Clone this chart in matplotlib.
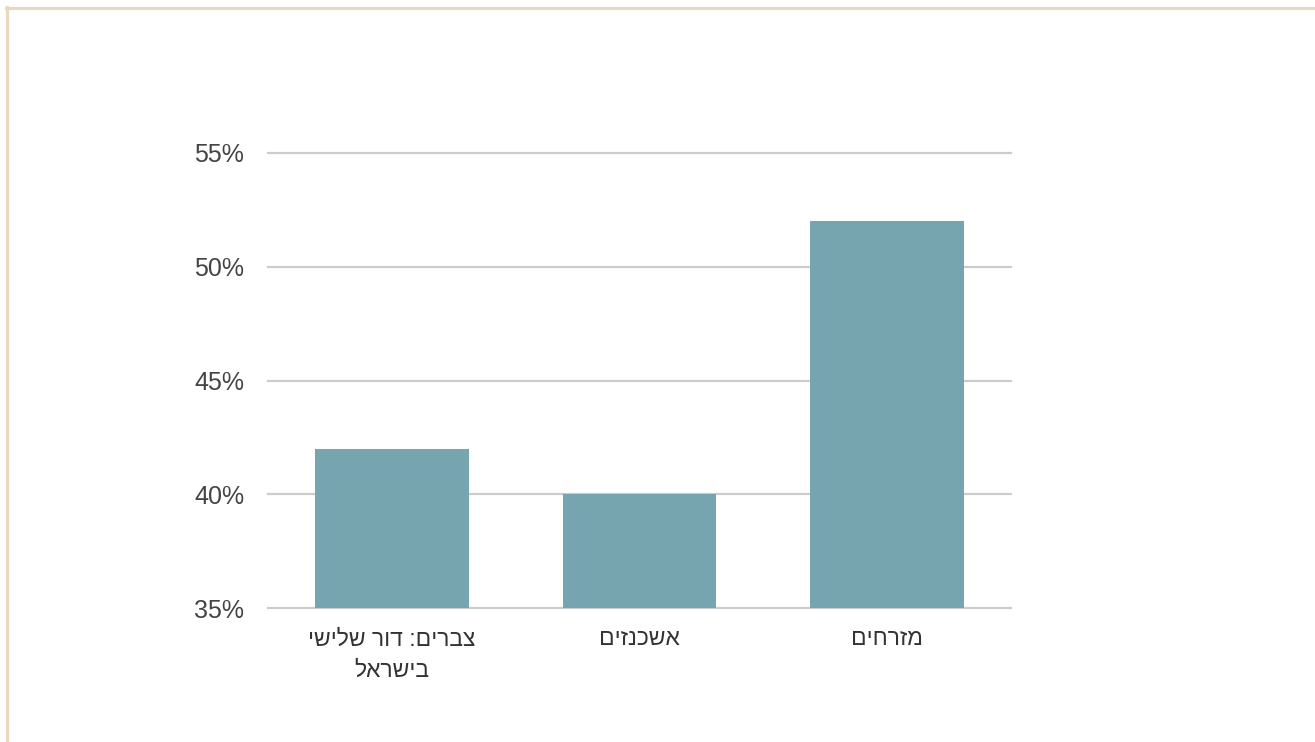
import matplotlib.pyplot as plt
from matplotlib.lines import Line2D

# categories in logical (RTL) order, reversed for display since matplotlib has no bidi
categories = ["צברים: דור שלישי\nבישראל", "אשכנזים", "מזרחים"]
values = [42, 40, 52]
yticks = [35, 40, 45, 50, 55]


def rtl(s):
    return "\n".join(line[::-1] for line in s.split("\n"))


plt.rcParams["font.family"] = ["Liberation Sans", "DejaVu Sans"]

fig = plt.figure(figsize=(13.15, 7.42), dpi=100)
ax = fig.add_axes([268 / 1315, 1 - 608 / 742, (1011 - 268) / 1315, (608 - 153) / 742])

x = list(range(len(categories)))
ax.bar(x, values, width=0.62, color="#76A5AF", zorder=3)

ax.set_xlim(-0.5, len(categories) - 0.5)
ax.set_ylim(35, 55)
ax.set_yticks(yticks)
ax.set_yticklabels([f"{t}%" for t in yticks])
ax.set_xticks(x)
ax.set_xticklabels([rtl(c) for c in categories], fontsize=16.5, linespacing=1.45)

ax.grid(axis="y", color="#CCCCCC", linewidth=1.6, zorder=0)
for gl in ax.get_ygridlines():
    gl.set_clip_on(False)
for s in ax.spines.values():
    s.set_visible(False)
ax.tick_params(axis="y", length=0, labelsize=18, labelcolor="#444444", pad=17)
ax.tick_params(axis="x", length=0, labelcolor="#333333", pad=14)

# beige frame on top and left
fig.add_artist(Line2D([6 / 1315, 1], [1 - 8 / 742, 1 - 8 / 742], color="#EAD7BE", linewidth=2.2, transform=fig.transFigure))
fig.add_artist(Line2D([7 / 1315, 7 / 1315], [0, 1 - 7 / 742], color="#EAD7BE", linewidth=2.2, transform=fig.transFigure))

fig.savefig("out.png", dpi=100)
